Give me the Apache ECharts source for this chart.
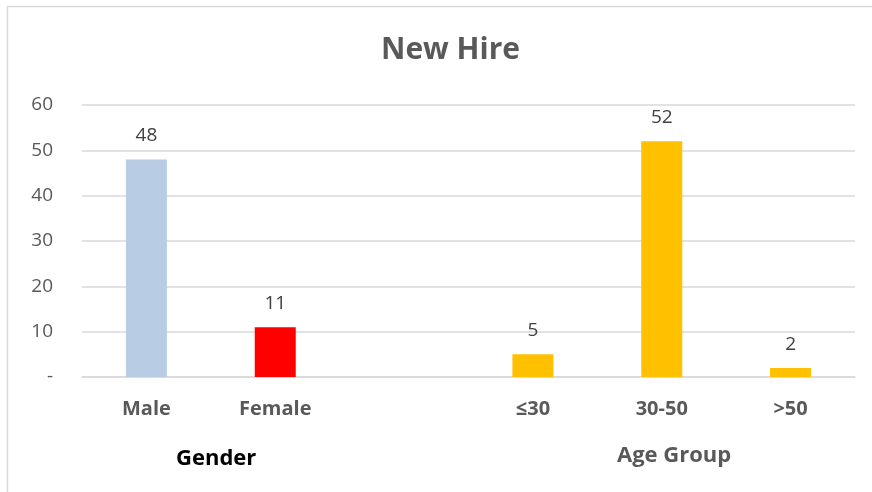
<!DOCTYPE html>
<html>
<head>
<meta charset="utf-8">
<script src="https://cdn.jsdelivr.net/npm/echarts@6/dist/echarts.min.js"></script>
<style>
  html, body { margin: 0; padding: 0; background: #fff; }
  #chart { width: 872px; height: 492px; }
</style>
</head>
<body>
<div id="chart"></div>
<script>
// categories (empty slot between the two groups)
var categories = ['Male', 'Female', '', '≤30', '30-50', '>50'];
var values = [48, 11, null, 5, 52, 2];
var barColors = ['#B8CCE4', '#FF0000', '#FFC000', '#FFC000', '#FFC000', '#FFC000'];
var yTicks = [0, 10, 20, 30, 40, 50, 60];
var groupLabels = ['Gender', 'Age Group'];

var chart = echarts.init(document.getElementById('chart'));
var font = '"Open Sans", "Noto Sans", sans-serif';

var option = {
    backgroundColor: '#fff',
    textStyle: { fontFamily: font },
    title: {
        text: 'New Hire',
        left: 376,
        top: 30,
        textStyle: { fontFamily: font, fontSize: 30, fontWeight: 'bold', color: '#595959' }
    },
    grid: { left: 82, right: 17, top: 105, bottom: 115 },
    xAxis: {
        type: 'category',
        data: categories,
        axisLine: { lineStyle: { color: '#d9d9d9', width: 1.5 } },
        axisTick: { show: false },
        axisLabel: {
            margin: 22,
            fontFamily: font,
            fontSize: 20,
            fontWeight: 'bold',
            color: '#595959'
        }
    },
    yAxis: {
        type: 'value',
        min: yTicks[0],
        max: yTicks[yTicks.length - 1],
        interval: 10,
        axisLine: { show: false },
        axisTick: { show: false },
        splitLine: { lineStyle: { color: '#d9d9d9', width: 1.5 } },
        axisLabel: {
            margin: 29,
            fontFamily: font,
            fontSize: 19,
            color: '#595959',
            formatter: function (v) { return v === 0 ? '-' : v; }
        }
    },
    series: [{
        type: 'bar',
        barWidth: 41,
        data: values.map(function (v, i) {
            return { value: v, itemStyle: { color: barColors[i] } };
        }),
        label: {
            show: true,
            position: 'top',
            distance: 14,
            fontFamily: font,
            fontSize: 19,
            color: '#404040'
        }
    }],
    graphic: [
        {
            type: 'rect',
            shape: { x: 7.5, y: 6.5, width: 880, height: 500 },
            style: { fill: 'none', stroke: '#d9d9d9', lineWidth: 1.5 },
            silent: true
        },
        {
            type: 'text',
            left: 176,
            top: 448,
            style: { text: groupLabels[0], font: 'bold 22px ' + font, fill: '#000' }
        },
        {
            type: 'text',
            left: 617,
            top: 445,
            style: { text: groupLabels[1], font: 'bold 22px ' + font, fill: '#595959' }
        }
    ]
};

chart.setOption(option);
</script>
</body>
</html>
